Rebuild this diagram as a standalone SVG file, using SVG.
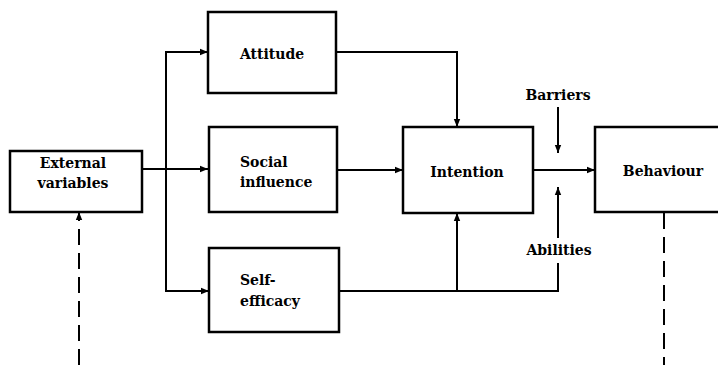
<svg xmlns="http://www.w3.org/2000/svg" width="718" height="365" viewBox="0 0 718 365">
<style>
.box{fill:#fff;stroke:#000;stroke-width:2.5}
.ln{fill:none;stroke:#000;stroke-width:2}
.dash{fill:none;stroke:#000;stroke-width:2;stroke-dasharray:16 8}
.t{font-family:'DejaVu Serif','Liberation Serif',serif;font-weight:bold;font-size:14px;fill:#000}
</style>
<defs>
<marker id="ah" viewBox="0 0 10 10" refX="10" refY="5" markerWidth="4" markerHeight="4" orient="auto" markerUnits="strokeWidth">
<path d="M0,1 L10,5 L0,9 z" fill="#000"/>
</marker>
</defs>
<rect width="718" height="365" fill="#fff"/>
<g id="connectors">
<path class="ln" d="M142,169 H208" marker-end="url(#ah)"/>
<path class="ln" d="M166,169 V52 H208" marker-end="url(#ah)"/>
<path class="ln" d="M166,169 V291 H209" marker-end="url(#ah)"/>
<path class="ln" d="M336,52 H457 V127" marker-end="url(#ah)"/>
<path class="ln" d="M337,170 H403" marker-end="url(#ah)"/>
<path class="ln" d="M339,291 H558 V263"/>
<path class="ln" d="M457,291 V213" marker-end="url(#ah)"/>
<path class="ln" d="M558,238 V187" marker-end="url(#ah)"/>
<path class="ln" d="M533,170 H595" marker-end="url(#ah)"/>
<path class="ln" d="M558,107 V153" marker-end="url(#ah)"/>
<path class="dash" d="M79,365 V212" marker-end="url(#ah)"/>
<path class="dash" d="M664,213 V365"/>
</g>
<g id="external"><rect class="box" x="10" y="151" width="132" height="61"/><text class="t" x="73" y="168" text-anchor="middle">External</text><text class="t" x="73" y="188" text-anchor="middle">variables</text></g>
<g id="attitude"><rect class="box" x="208" y="12" width="128" height="81"/><text class="t" x="272" y="59" text-anchor="middle">Attitude</text></g>
<g id="social"><rect class="box" x="209" y="127" width="128" height="85"/><text class="t" x="240" y="167">Social</text><text class="t" x="240" y="187">influence</text></g>
<g id="selfefficacy"><rect class="box" x="209" y="248" width="130" height="84"/><text class="t" x="240" y="285">Self-</text><text class="t" x="240" y="306">efficacy</text></g>
<g id="intention"><rect class="box" x="403" y="127" width="130" height="86"/><text class="t" x="467" y="177" text-anchor="middle">Intention</text></g>
<g id="behaviour"><rect class="box" x="595" y="127" width="130" height="85"/><text class="t" x="663" y="176" text-anchor="middle">Behaviour</text></g>
<g id="barriers"><text class="t" x="558" y="100" text-anchor="middle">Barriers</text></g>
<g id="abilities"><text class="t" x="559" y="255" text-anchor="middle">Abilities</text></g>
</svg>
